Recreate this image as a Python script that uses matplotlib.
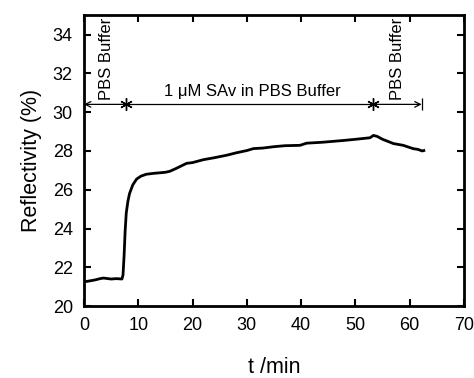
import matplotlib
matplotlib.use("Agg")
import matplotlib.pyplot as plt

plt.rcParams['font.family'] = ['Liberation Sans', 'DejaVu Sans']

# reflectivity trace
t_min = [0, 1, 2, 3, 3.6, 5, 6, 7.0, 7.2, 7.4, 7.6, 7.8, 8.1, 8.4, 9.0, 9.7,
         10.5, 11.5, 13, 15, 15.8, 17, 18.9, 20, 22, 24, 26.3, 28, 30, 31.2,
         33, 35, 37, 39.8, 41, 44, 47.8, 50, 52.7, 53.3, 54, 55, 57, 58.8,
         60.6, 61.5, 62.3, 62.6]
refl = [21.25, 21.3, 21.35, 21.42, 21.45, 21.4, 21.42, 21.4, 21.6, 22.6, 23.9,
        24.8, 25.4, 25.8, 26.25, 26.55, 26.7, 26.8, 26.85, 26.9, 26.95, 27.1,
        27.36, 27.4, 27.55, 27.65, 27.78, 27.9, 28.02, 28.12, 28.15, 28.22,
        28.27, 28.29, 28.4, 28.45, 28.54, 28.6, 28.68, 28.8, 28.75, 28.6,
        28.38, 28.29, 28.12, 28.08, 28.0, 28.02]

# injection segments
seg_bounds = [0, 7.8, 53.3, 62.2]
arrow_y = 30.4

fig, ax = plt.subplots(figsize=(4.74, 3.78), dpi=100)
fig.subplots_adjust(left=0.177, right=0.979, top=0.96, bottom=0.19)

ax.plot(t_min, refl, color='black', lw=2)

# segment arrows
ax.annotate('', xy=(seg_bounds[0], arrow_y), xytext=(seg_bounds[1], arrow_y),
            arrowprops=dict(arrowstyle='->', color='black', lw=0.9,
                            shrinkA=0, shrinkB=0))
ax.plot([seg_bounds[1], seg_bounds[2]], [arrow_y, arrow_y], color='black', lw=0.9)
ax.annotate('', xy=(seg_bounds[3], arrow_y), xytext=(seg_bounds[2], arrow_y),
            arrowprops=dict(arrowstyle='->', color='black', lw=0.9,
                            shrinkA=0, shrinkB=0))
ax.plot([seg_bounds[3]], [arrow_y], marker='|', color='black', ms=9, mew=0.9)
ax.plot(seg_bounds[1:3], [arrow_y, arrow_y], ls='none', marker=(6, 2, 0),
        color='black', ms=9, mew=1.0)

ax.text(4.2, 30.6, 'PBS Buffer', rotation=90, ha='center', va='bottom', fontsize=12)
ax.text(57.8, 30.6, 'PBS Buffer', rotation=90, ha='center', va='bottom', fontsize=12)
ax.text(31, 30.7, '1 \u03bcM SAv in PBS Buffer', ha='center', va='bottom', fontsize=12)

ax.set_xlim(0, 70)
ax.set_ylim(20, 35)
ax.set_xticks(range(0, 71, 10))
ax.set_yticks(range(20, 35, 2))
ax.tick_params(direction='in', top=True, right=True, length=5, width=1.5,
               labelsize=13, pad=8)
for s in ax.spines.values():
    s.set_linewidth(2)

ax.set_xlabel('t /min', fontsize=15.5, labelpad=16)
ax.set_ylabel('Reflectivity (%)', fontsize=15.5, labelpad=8)

fig.savefig('out.png', dpi=100)
